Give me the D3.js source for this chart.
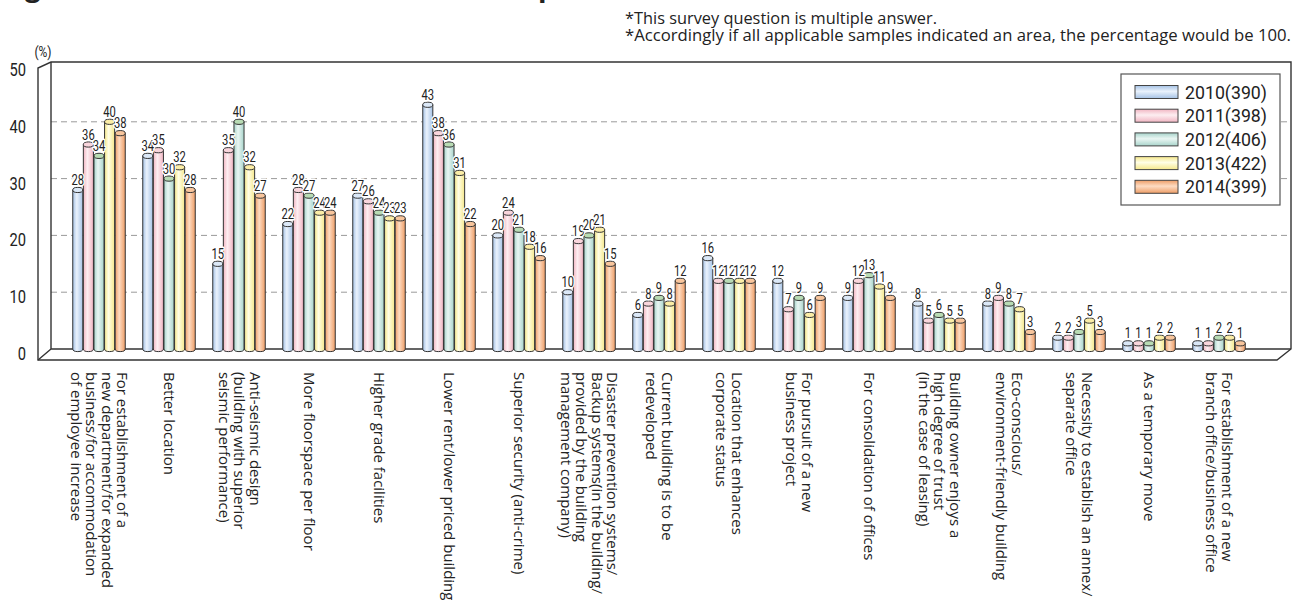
<!DOCTYPE html>
<html>
<head>
<meta charset="utf-8">
<script src="https://cdn.jsdelivr.net/npm/d3@7/dist/d3.min.js"></script>
<style>
  html, body { margin: 0; padding: 0; background: #fff; }
  svg { display: block; }
  .num { font-family: "Roboto", "DejaVu Sans", sans-serif; }
  .txt { font-family: "Open Sans", "Noto Sans", sans-serif; }
</style>
</head>
<body>
<svg id="chart" width="1295" height="604"></svg>
<script>
// Reasons for relocation, by survey year (% of respondents, multiple answers)
const categories = [
  ["For establishment of a", "new department/for expanded", "business/for accommodation", "of employee increase"],
  ["Better location"],
  ["Anti-seismic design", "(building with superior", "seismic performance)"],
  ["More floorspace per floor"],
  ["Higher grade facilities"],
  ["Lower rent/lower priced building"],
  ["Superior security (anti-crime)"],
  ["Disaster prevention systems/", "Backup systems(in the building/", "provided by the building", "management company)"],
  ["Current building is to be", "redeveloped"],
  ["Location that enhances", "corporate status"],
  ["For pursuit of a new", "business project"],
  ["For consolidation of offices"],
  ["Building owner enjoys a", "high degree of trust", "(in the case of leasing)"],
  ["Eco-conscious/", "environment-friendly building"],
  ["Necessity to establish an annex/", "separate office"],
  ["As a temporary move"],
  ["For establishment of a new", "branch office/business office"]
];

const years = ["2010", "2011", "2012", "2013", "2014"];
const sampleSizes = [390, 398, 406, 422, 399];

const v2010 = [28, 34, 15, 22, 27, 43, 20, 10, 6, 16, 12, 9, 8, 8, 2, 1, 1];
const v2011 = [36, 35, 35, 28, 26, 38, 24, 19, 8, 12, 7, 12, 5, 9, 2, 1, 1];
const v2012 = [34, 30, 40, 27, 24, 36, 21, 20, 9, 12, 9, 13, 6, 8, 3, 1, 2];
const v2013 = [40, 32, 32, 24, 23, 31, 18, 21, 8, 12, 6, 11, 5, 7, 5, 2, 2];
const v2014 = [38, 28, 27, 24, 23, 22, 16, 15, 12, 12, 9, 9, 5, 3, 3, 2, 1];

const yTicks = [0, 10, 20, 30, 40, 50];

const seriesValues = [v2010, v2011, v2012, v2013, v2014];

// cylinder colours: edge, highlight, cap
const palette = [
  { edge: "#a5c2e5", light: "#eaf2fc", cap: "#dbe8f7" },
  { edge: "#f1b5c2", light: "#fdeef1", cap: "#f9d5dc" },
  { edge: "#a8d4cb", light: "#eaf6f3", cap: "#b8dbb4" },
  { edge: "#f5e78a", light: "#fffee6", cap: "#fbeda6" },
  { edge: "#ee9d66", light: "#fddcc3", cap: "#f8c59c" }
];

const svg = d3.select("#chart");
const defs = svg.append("defs");

palette.forEach((p, i) => {
  const g = defs.append("linearGradient").attr("id", "cyl" + i)
    .attr("x1", "0%").attr("x2", "100%").attr("y1", "0%").attr("y2", "0%");
  g.append("stop").attr("offset", "0%").attr("stop-color", p.edge);
  g.append("stop").attr("offset", "40%").attr("stop-color", p.light);
  g.append("stop").attr("offset", "100%").attr("stop-color", p.edge);
  const h = defs.append("linearGradient").attr("id", "sw" + i)
    .attr("x1", "0%").attr("x2", "0%").attr("y1", "0%").attr("y2", "100%");
  h.append("stop").attr("offset", "0%").attr("stop-color", p.edge);
  h.append("stop").attr("offset", "45%").attr("stop-color", p.light);
  h.append("stop").attr("offset", "100%").attr("stop-color", p.edge);
});

// narrow numerals: horizontally compressed text
function narrowText(sel, px, py, size, squeeze) {
  return sel.append("text").attr("class", "num")
    .attr("transform", `translate(${px},${py}) scale(${squeeze},1)`)
    .attr("font-size", size).attr("fill", "#222");
}

// box geometry (pseudo-3D frame)
const back = { left: 51, right: 1291, top: 62, floor: 349 };
const front = { left: 38, right: 1277, floor: 360, top: 68 };

const y = d3.scaleLinear().domain([0, 50]).range([back.floor, 65]);
const x = d3.scaleBand().domain(d3.range(categories.length)).range([64, 1254]);
const xi = d3.scaleBand().domain(years).range([-26.25, 26.25]).paddingInner(0.05);

// title (runs off the top edge)
svg.append("text").attr("class", "txt")
  .attr("x", 1).attr("y", -4)
  .attr("font-size", 28).attr("font-weight", "bold").attr("fill", "#222")
  .text("Figure 9  Reasons for Relocation and Expansion");

// notes
svg.append("text").attr("class", "txt").attr("x", 625).attr("y", 23.5)
  .attr("font-size", 15.5).attr("fill", "#222")
  .attr("textLength", 312).attr("lengthAdjust", "spacingAndGlyphs")
  .text("*This survey question is multiple answer.");
svg.append("text").attr("class", "txt").attr("x", 625).attr("y", 41)
  .attr("font-size", 15.5).attr("fill", "#222")
  .attr("textLength", 666).attr("lengthAdjust", "spacingAndGlyphs")
  .text("*Accordingly if all applicable samples indicated an area, the percentage would be 100.");

// gridlines on back wall
svg.append("g").selectAll("line").data(yTicks.filter(t => t > 0 && t < 50)).join("line")
  .attr("x1", back.left).attr("x2", back.right)
  .attr("y1", d => y(d)).attr("y2", d => y(d))
  .attr("stroke", "#9a9a9a").attr("stroke-width", 1).attr("stroke-dasharray", "6,4");

// frame
const frame = svg.append("g").attr("fill", "none").attr("stroke", "#333").attr("stroke-width", 1.4);
frame.append("path").attr("d",
  `M${front.left},${front.floor} L${front.left},${front.top} L${back.left},${back.top} L${back.right},${back.top} L${back.right},${back.floor} L${front.right},${front.floor} Z`);
frame.append("path").attr("d",
  `M${back.left},${back.top} L${back.left},${back.floor} L${back.right},${back.floor} M${back.left},${back.floor} L${front.left},${front.floor}`);

// y tick labels along the front-left edge
const tickG = svg.append("g");
yTicks.forEach(t => {
  narrowText(tickG, 26, y(t) + 5, 17.5, 0.84)
    .attr("text-anchor", "end").attr("dominant-baseline", "central")
    .text(t);
});
narrowText(svg, 43, 51, 15, 0.8)
  .attr("text-anchor", "middle").attr("dominant-baseline", "central").text("(%)");

// legend
const legend = svg.append("g");
legend.append("rect").attr("x", 1121).attr("y", 74).attr("width", 159).attr("height", 131)
  .attr("fill", "#fff").attr("stroke", "#555").attr("stroke-width", 1.2);
years.forEach((yr, i) => {
  const cy = 92 + i * 23.7;
  legend.append("rect").attr("x", 1135).attr("y", cy - 6.5).attr("width", 43).attr("height", 13)
    .attr("fill", `url(#sw${i})`).attr("stroke", "#444").attr("stroke-width", 1);
  legend.append("text").attr("class", "num").attr("x", 1185).attr("y", cy + 0.5)
    .attr("dominant-baseline", "central").attr("font-size", 17.5).attr("fill", "#222")
    .attr("textLength", 82).attr("lengthAdjust", "spacingAndGlyphs")
    .text(`${yr}(${sampleSizes[i]})`);
});

// cylinders
const rx = xi.bandwidth() / 2, ry = 2.6;
const bars = svg.append("g");
const labels = svg.append("g");
categories.forEach((cat, ci) => {
  const cx = x(ci) + x.bandwidth() / 2;
  years.forEach((yr, si) => {
    const v = seriesValues[si][ci];
    const bx = cx + xi(yr);
    const top = y(v), bot = y(0);
    const g = bars.append("g");
    g.append("path")
      .attr("d", `M${bx},${top} L${bx},${bot} A${rx},${ry} 0 0 0 ${bx + 2 * rx},${bot} L${bx + 2 * rx},${top} Z`)
      .attr("fill", `url(#cyl${si})`).attr("stroke", "#333").attr("stroke-width", 1);
    g.append("ellipse").attr("cx", bx + rx).attr("cy", top).attr("rx", rx).attr("ry", ry)
      .attr("fill", palette[si].cap).attr("stroke", "#333").attr("stroke-width", 1);
    narrowText(labels, bx + rx, top - 5, 14, 0.8)
      .attr("text-anchor", "middle")
      .attr("stroke", "#fff").attr("stroke-width", 3).attr("paint-order", "stroke")
      .attr("stroke-linejoin", "round")
      .text(v);
  });
});

// category labels, rotated to read downward
const lab = svg.append("g");
categories.forEach((lines, ci) => {
  const cx = x(ci) + x.bandwidth() / 2;
  const n = lines.length;
  lines.forEach((line, k) => {
    const lx = cx + 1 + ((n - 1) / 2 - k) * 15.5;
    lab.append("text").attr("class", "txt")
      .attr("transform", `translate(${lx},372) rotate(90)`)
      .attr("dominant-baseline", "central")
      .attr("font-size", 15).attr("fill", "#222")
      .text(line);
  });
});
</script>
</body>
</html>
